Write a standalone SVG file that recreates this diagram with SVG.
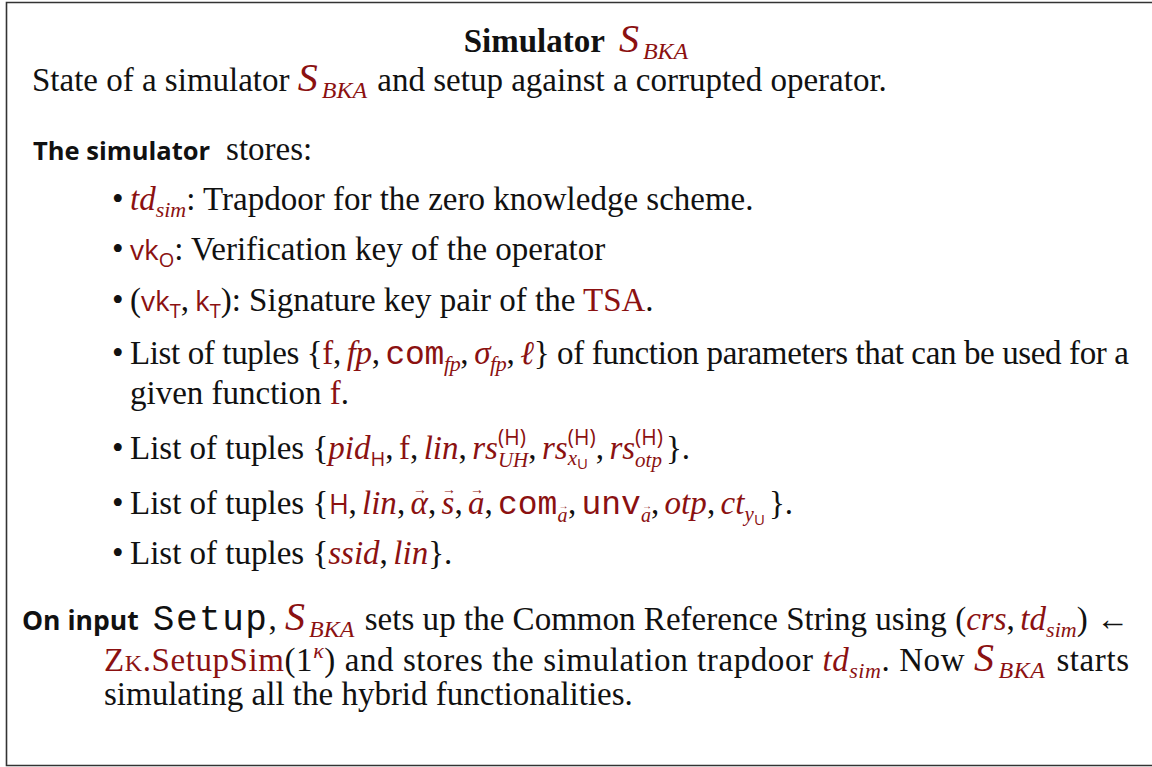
<svg xmlns="http://www.w3.org/2000/svg" width="1152" height="767" viewBox="0 0 1152 767">
  <style>
    text { font-family: "Liberation Serif", "DejaVu Serif", serif; font-size: 33px; fill: #111; }
    .r { fill: #8b1111; }
    .i { font-style: italic; }
    .b { font-weight: 700; }
    .tt { font-family: "Liberation Mono", "DejaVu Sans Mono", monospace; }
    .sub { font-size: 22px; }
    .sans { font-family: "Open Sans", "DejaVu Sans", sans-serif; font-size: 28px; }
    .sans-sub { font-family: "Open Sans", "DejaVu Sans", sans-serif; font-size: 20px; }
    .sans-ss { font-family: "Open Sans", "DejaVu Sans", sans-serif; font-size: 15px; }
    .cal { font-size: 40px; }
    .bka { font-size: 24px; font-style: italic; }
    .hd { font-family: "Open Sans", "DejaVu Sans", sans-serif; font-weight: 700; font-size: 25.5px; }
    .vec { font-size: 14px; text-anchor: middle; }
    .vec-s { font-size: 10px; text-anchor: middle; }
  </style>

  <!-- frame -->
  <g id="frame">
    <path d="M1152 2.5 H6.5 V765.5 H1152" fill="none" stroke="#333" stroke-width="1.6"/>
  </g>

  <!-- heading -->
  <g id="title">
    <text x="576" y="52" text-anchor="middle"><tspan class="b">Simulator</tspan><tspan class="r i cal" dx="14">S</tspan><tspan class="r bka" dx="4" dy="7">BKA</tspan></text>
  </g>

  <g id="caption">
    <text x="32" y="91">State of a simulator <tspan class="r i cal">S</tspan><tspan class="r bka" dx="4" dy="7">BKA</tspan><tspan dy="-7" dx="2"> and setup against a corrupted operator.</tspan></text>
  </g>

  <!-- stored state -->
  <g id="stores">
    <text x="33" y="160"><tspan class="hd">The simulator</tspan><tspan dx="16">stores:</tspan></text>
  </g>

  <g id="item-td">
    <text x="112" y="210">•</text>
    <text x="130" y="210"><tspan class="r i">td</tspan><tspan class="r i sub" dy="7">sim</tspan><tspan dy="-7">: Trapdoor for the zero knowledge scheme.</tspan></text>
  </g>

  <g id="item-vk">
    <text x="112" y="260">•</text>
    <text x="130" y="260"><tspan class="r sans">vk</tspan><tspan class="r sans-sub" dy="7">O</tspan><tspan dy="-7">: Verification key of the operator</tspan></text>
  </g>

  <g id="item-keys">
    <text x="112" y="311">•</text>
    <text x="130" y="311">(<tspan class="r sans">vk</tspan><tspan class="r sans-sub" dy="7">T</tspan><tspan dy="-7">,</tspan><tspan class="r sans" dx="6">k</tspan><tspan class="r sans-sub" dy="7">T</tspan><tspan dy="-7">): Signature key pair of the </tspan><tspan class="r">TSA</tspan>.</text>
  </g>

  <g id="item-fp">
    <text x="112" y="364">•</text>
    <text x="130" y="364" textLength="999" lengthAdjust="spacing">List of tuples {<tspan class="r">f</tspan>,<tspan class="r i" dx="6">fp</tspan>,<tspan class="r tt" dx="6">com</tspan><tspan class="r i sub" dy="7">fp</tspan><tspan dy="-7">,</tspan><tspan class="r i" dx="6">σ</tspan><tspan class="r i sub" dy="7">fp</tspan><tspan dy="-7">,</tspan><tspan class="r i" dx="6">ℓ</tspan>} of function parameters that can be used for a</text>
    <text x="130" y="404">given function <tspan class="r">f</tspan>.</text>
  </g>

  <g id="item-rs">
    <text x="112" y="459">•</text>
    <text x="130" y="459">List of tuples {<tspan class="r i">pid</tspan><tspan class="r sans-sub" dy="7">H</tspan><tspan dy="-7">,</tspan><tspan class="r" dx="5.5">f</tspan>,<tspan class="r i" dx="5.5">lin</tspan>,<tspan class="r i" dx="5.5">rs</tspan><tspan class="r sans-sub" style="font-size:21px" dy="-14">(H)</tspan><tspan class="r i" style="font-size:21px" dx="-27.9" dy="22">UH</tspan><tspan dy="-8">,</tspan><tspan class="r i" dx="5.5">rs</tspan><tspan class="r sans-sub" style="font-size:21px" dy="-14">(H)</tspan><tspan class="r i" style="font-size:21px" dx="-27.9" dy="20">x</tspan><tspan class="r sans-ss" dy="4">U</tspan><tspan dx="7.7" dy="-10">,</tspan><tspan class="r i" dx="5.5">rs</tspan><tspan class="r sans-sub" style="font-size:21px" dy="-14">(H)</tspan><tspan class="r i" style="font-size:21px" dx="-27.9" dy="22">otp</tspan><tspan dx="4" dy="-8">}.</tspan></text>
  </g>

  <g id="item-vec">
    <text x="112" y="514">•</text>
    <text x="130" y="514">List of tuples {</text>
    <text x="329" y="514" class="r sans" style="font-size:27px">H</text>
    <text x="348.5" y="514">,</text>
    <text x="362" y="514" class="r i">lin</text>
    <text x="397" y="514">,</text>
    <text x="410.5" y="514" class="r i">α</text>
    <text x="420" y="494" class="r vec">→</text>
    <text x="428" y="514">,</text>
    <text x="441.5" y="514" class="r i">s</text>
    <text x="449" y="494" class="r vec">→</text>
    <text x="454.5" y="514">,</text>
    <text x="468" y="514" class="r i">a</text>
    <text x="477" y="494" class="r vec">→</text>
    <text x="484.5" y="514">,</text>
    <text x="498" y="514" class="r tt">com</text>
    <text x="557.5" y="522" class="r i" style="font-size:20px">a</text>
    <text x="563.5" y="509" class="r vec-s">→</text>
    <text x="568" y="514">,</text>
    <text x="581.5" y="514" class="r tt">unv</text>
    <text x="641" y="522" class="r i" style="font-size:20px">a</text>
    <text x="647" y="509" class="r vec-s">→</text>
    <text x="651" y="514">,</text>
    <text x="664.5" y="514" class="r i">otp</text>
    <text x="707" y="514">,</text>
    <text x="720.5" y="514" class="r i">ct</text>
    <text x="744.5" y="521" class="r i" style="font-size:21px">y</text>
    <text x="754" y="525" class="r sans-ss">U</text>
    <text x="769" y="514">}.</text>
  </g>

  <g id="item-ssid">
    <text x="112" y="564">•</text>
    <text x="130" y="564">List of tuples {<tspan class="r i">ssid</tspan>,<tspan class="r i" dx="5.5">lin</tspan>}.</text>
  </g>

  <!-- setup step -->
  <g id="setup">
    <text x="22" y="630" textLength="1107" lengthAdjust="spacing"><tspan class="hd" style="font-size:26.5px">On input</tspan><tspan class="tt" dx="14" style="font-size:36px;letter-spacing:1.5px">Setup</tspan>, <tspan class="r i cal">S</tspan><tspan class="r bka" dx="4" dy="7">BKA</tspan><tspan dy="-7" dx="2"> sets up the Common Reference String using (</tspan><tspan class="r i">crs</tspan>,<tspan class="r i" dx="5.5">td</tspan><tspan class="r i sub" dy="7">sim</tspan><tspan dy="-7">) ←</tspan></text>

    <text x="104" y="671" textLength="1025" lengthAdjust="spacing"><tspan class="r">Z</tspan><tspan class="r" style="font-size:24px">K</tspan><tspan class="r">.SetupSim</tspan>(1<tspan class="r i sub" dy="-13">κ</tspan><tspan dy="13">) and stores the simulation trapdoor </tspan><tspan class="r i">td</tspan><tspan class="r i sub" dy="7">sim</tspan><tspan dy="-7">. Now </tspan><tspan class="r i cal">S</tspan><tspan class="r bka" dx="4" dy="7">BKA</tspan><tspan dy="-7" dx="2"> starts</tspan></text>

    <text x="104" y="705">simulating all the hybrid functionalities.</text>
  </g>
</svg>
